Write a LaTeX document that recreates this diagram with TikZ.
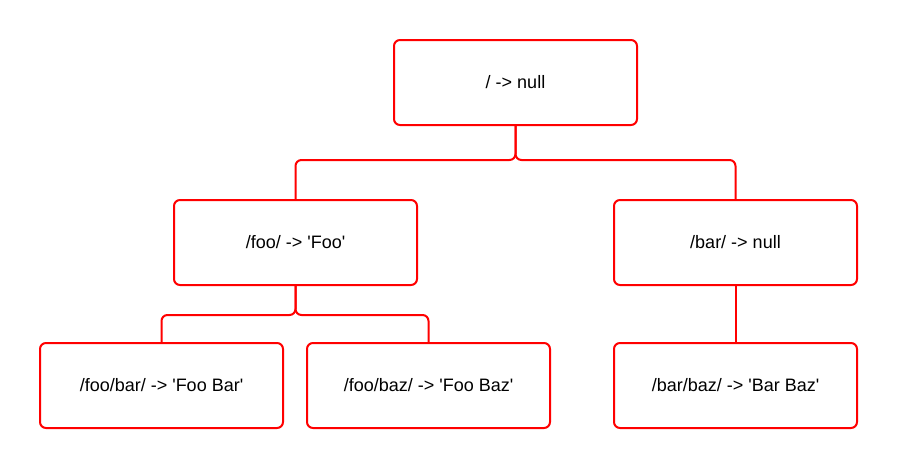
\documentclass[tikz,border=0pt]{standalone}
\usepackage{fontspec}
\setmainfont{Liberation Sans}
\newcommand{\sq}{\textquotesingle}
\tikzset{
  entry/.style={draw=red, line width=1.5pt, rounded corners=4.5pt, minimum width=182.25pt, minimum height=63.75pt, font=\fontsize{13.5}{16}\selectfont},
  link/.style={red, line width=1.5pt, rounded corners=4.5pt}
}
\begin{document}
\begin{tikzpicture}[x=0.75pt, y=-0.75pt]
\useasboundingbox (0,0) rectangle (897,469);
\coordinate (J1) at (515.5,160);
\coordinate (J2) at (295.5,315);

 \node[entry] (root) at (515.5,82.5) {/ -> null};
 \node[entry] (foo) at (295.5,242.5) {/foo/ -> \sq Foo\sq};
 \node[entry] (bar) at (735.5,242.5) {/bar/ -> null};
 \node[entry] (foobar) at (161.5,385.5) {/foo/bar/ -> \sq Foo Bar\sq};
 \node[entry] (foobaz) at (428.5,385.5) {/foo/baz/ -> \sq Foo Baz\sq};
 \node[entry] (barbaz) at (735.5,385.5) {/bar/baz/ -> \sq Bar Baz\sq};

\draw[link] (root.south) -- (J1) -| (foo.north);
\draw[link] (root.south) -- (J1) -| (bar.north);
\draw[link] (foo.south) -- (J2) -| (foobar.north);
\draw[link] (foo.south) -- (J2) -| (foobaz.north);
\draw[link] (bar.south) -- (barbaz.north);

\end{tikzpicture}
\end{document}
